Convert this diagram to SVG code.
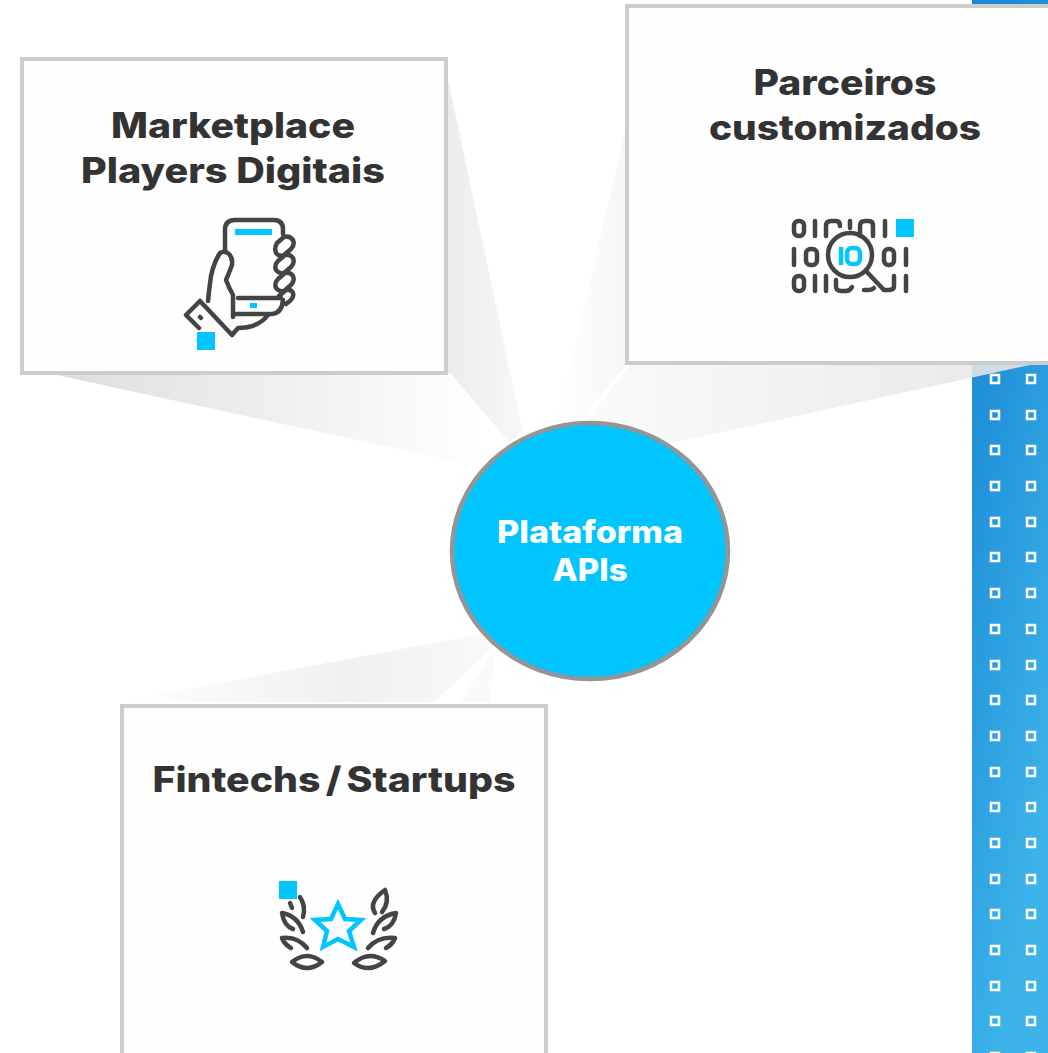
<svg xmlns="http://www.w3.org/2000/svg" width="1048" height="1053" viewBox="0 0 1048 1053">
<style>
.box{fill:#fefefe;stroke:#ccc;stroke-width:4}
.t{font-family:"Inter","Liberation Sans",sans-serif;font-weight:800;fill:#333;font-size:35px;text-anchor:middle}
.w{fill:#fff;font-size:31px}
.i{fill:none;stroke:#444;stroke-width:4.5;stroke-linecap:round;stroke-linejoin:round}
.c{fill:none;stroke:#00c5ff;stroke-width:4.5}
.a{fill:#00c5ff}
.d{fill:none;stroke:#fff;stroke-width:2.5}
</style>
<defs>
<linearGradient id="bg" x1="0" y1="0" x2="0.35" y2="1"><stop offset="0" stop-color="#1a87d3"/><stop offset="0.4" stop-color="#2191d9"/><stop offset="1" stop-color="#3cb3e9"/></linearGradient>
<linearGradient id="s1" gradientUnits="userSpaceOnUse" x1="60" y1="0" x2="480" y2="0"><stop offset="0" stop-color="#dedede"/><stop offset="1" stop-color="#fff"/></linearGradient>
<linearGradient id="s2" gradientUnits="userSpaceOnUse" x1="447" y1="0" x2="525" y2="0"><stop offset="0" stop-color="#ececec"/><stop offset="1" stop-color="#f8f8f8"/></linearGradient>
<linearGradient id="s3" gradientUnits="userSpaceOnUse" x1="1000" y1="0" x2="590" y2="0"><stop offset="0" stop-color="#e6e6e6"/><stop offset="1" stop-color="#fafafa"/></linearGradient>
<linearGradient id="s4" gradientUnits="userSpaceOnUse" x1="627" y1="0" x2="555" y2="0"><stop offset="0" stop-color="#f6f6f6"/><stop offset="1" stop-color="#fff"/></linearGradient>
<linearGradient id="s5" gradientUnits="userSpaceOnUse" x1="120" y1="0" x2="500" y2="0"><stop offset="0" stop-color="#fff"/><stop offset="0.6" stop-color="#f0f0f0"/><stop offset="1" stop-color="#fafafa"/></linearGradient>
<g id="q"><rect x="-4" y="-4" width="8" height="8" class="d"/></g>
</defs>
<rect width="1048" height="1053" fill="#fff"/>
<g id="panel">
<rect x="972" width="76" height="1053" fill="url(#bg)"/>
<g id="dots">
<use href="#q" x="995" y="379"/><use href="#q" x="1031" y="379"/>
<use href="#q" x="995" y="415"/><use href="#q" x="1031" y="415"/>
<use href="#q" x="995" y="450"/><use href="#q" x="1031" y="450"/>
<use href="#q" x="995" y="486"/><use href="#q" x="1031" y="486"/>
<use href="#q" x="995" y="522"/><use href="#q" x="1031" y="522"/>
<use href="#q" x="995" y="557"/><use href="#q" x="1031" y="557"/>
<use href="#q" x="995" y="593"/><use href="#q" x="1031" y="593"/>
<use href="#q" x="995" y="629"/><use href="#q" x="1031" y="629"/>
<use href="#q" x="995" y="665"/><use href="#q" x="1031" y="665"/>
<use href="#q" x="995" y="700"/><use href="#q" x="1031" y="700"/>
<use href="#q" x="995" y="736"/><use href="#q" x="1031" y="736"/>
<use href="#q" x="995" y="772"/><use href="#q" x="1031" y="772"/>
<use href="#q" x="995" y="807"/><use href="#q" x="1031" y="807"/>
<use href="#q" x="995" y="843"/><use href="#q" x="1031" y="843"/>
<use href="#q" x="995" y="879"/><use href="#q" x="1031" y="879"/>
<use href="#q" x="995" y="914"/><use href="#q" x="1031" y="914"/>
<use href="#q" x="995" y="950"/><use href="#q" x="1031" y="950"/>
<use href="#q" x="995" y="986"/><use href="#q" x="1031" y="986"/>
<use href="#q" x="995" y="1021"/><use href="#q" x="1031" y="1021"/>
<use href="#q" x="995" y="1057"/><use href="#q" x="1031" y="1057"/>
</g>
</g>
<g id="connectors">
<polygon points="52,374 449,374 510,445 476,466" fill="url(#s1)"/>
<polygon points="447,75 447,372 451,374 509,442 523,432" fill="url(#s2)"/>
<polygon points="1030,365 630,365 587,420 605,422 672,443" fill="url(#s3)" opacity="0.88"/>
<polygon points="627,125 627,363 583,418 556,424" fill="url(#s4)"/>
<polygon points="118,702 434,702 494,646 482,634" fill="url(#s5)"/>
<polygon points="458,702 495,650 490,702" fill="#fafafa"/>
</g>
<g id="marketplace">
<rect class="box" x="22" y="59" width="424" height="314"/>
<text class="t" x="233" y="138" textLength="244" lengthAdjust="spacingAndGlyphs">Marketplace</text>
<text class="t" x="233" y="183" textLength="304" lengthAdjust="spacingAndGlyphs">Players Digitais</text>
<path class="i" d="M225 252V230Q225 220 235 220H274Q283 220 283 230V234M238 298H281M233 314H272Q282 313 283 300"/>
<path class="i" d="M220 253Q225 250 229 254Q233 258 232 265Q229 273 226 280Q229 288 233 295V317M220 253Q214 262 211 276Q209 290 208 301"/>
<path class="i" d="M200 301L186 315L199 328M200 301L232 335L238 328Q258 328 268 315"/>
<path class="i" d="M200 317l1 1" stroke-width="3"/>
<path class="i" d="M277 243L284 237Q289 235 293 240Q295 245 291 249L284 255Q279 257 276 253Q274 248 277 243ZM278 261L285 255Q290 254 293 258Q295 263 291 267L284 273Q279 274 276 270Q274 265 278 261ZM278 279L285 273Q290 272 293 276Q295 281 291 285L284 291Q279 292 276 288Q274 283 278 279ZM279 296L286 290Q291 289 293 293Q294 297 291 300L286 304"/>
<rect class="a" x="235" y="229" width="37" height="6"/>
<rect class="a" x="250" y="303" width="7" height="5"/>
<rect class="a" x="197" y="332" width="18" height="18"/>
</g>
<g id="parceiros">
<rect class="box" x="627" y="6" width="425" height="357"/>
<text class="t" x="845" y="95" textLength="183" lengthAdjust="spacingAndGlyphs">Parceiros</text>
<text class="t" x="845" y="140" textLength="272" lengthAdjust="spacingAndGlyphs">customizados</text>
<g class="i">
<rect x="794" y="221" width="10" height="15" rx="4.5"/><path d="M815 221V236M826 236V226Q826 221 831 221H836Q840 221 840 226M850 221V228M860 236V226Q860 221 865 221H869Q873 221 873 226V236M885 221V236"/>
<path d="M794 249V265"/><rect x="806" y="249" width="11" height="16" rx="4.5"/><rect x="884" y="249" width="10" height="16" rx="4.5"/><path d="M906 249V265"/>
<rect x="794" y="276" width="10" height="15" rx="4.5"/><path d="M815 276V291M826 276V291M836 280V286Q836 291 841 291H846Q850 291 852 287M864 290H868Q872 290 874 288M884 290H889Q894 290 894 286V276M906 276V291"/>
<circle cx="850" cy="255" r="22"/><path d="M866 271L883 289"/>
</g>
<g class="c"><path d="M841 247V265"/><rect x="847" y="248" width="13" height="16" rx="5"/></g>
<rect class="a" x="896" y="219" width="18" height="18"/>
</g>
<g id="fintechs">
<rect class="box" x="122" y="706" width="424" height="354"/>
<text class="t" x="334" y="792" textLength="363" lengthAdjust="spacingAndGlyphs" word-spacing="-3">Fintechs / Startups</text>
<g class="i">
<path d="M300 897Q306 906 303 917M290 903L292 908"/>
<path d="M303 932Q298 916 282 913Q284 926 293 929"/>
<path d="M307 948Q297 936 282 938Q285 945 291 948"/>
<path d="M292 962Q307 950 322 962Q307 974 292 962Z"/>
<path d="M375 913Q368 902 385 890Q390 902 382 912"/>
<path d="M373 933Q378 916 396 913Q394 926 384 929"/>
<path d="M368 948Q378 936 395 938Q392 945 386 948"/>
<path d="M354 963Q369 950 385 961Q369 974 354 963Z"/>
</g>
<polygon class="c" stroke-linejoin="miter" points="338,904 345,919 361,920 349,931 354,947 338,939 323,947 327,931 315,920 331,919"/>
<rect class="a" x="279" y="881" width="18" height="18"/>
</g>
<g id="plataforma">
<ellipse cx="590" cy="551" rx="138" ry="128" fill="#00c5ff" stroke="#959595" stroke-width="4.5"/>
<text class="t w" x="590" y="543" textLength="186" lengthAdjust="spacingAndGlyphs">Plataforma</text>
<text class="t w" x="590" y="581" textLength="75" lengthAdjust="spacingAndGlyphs">APIs</text>
</g>
</svg>
